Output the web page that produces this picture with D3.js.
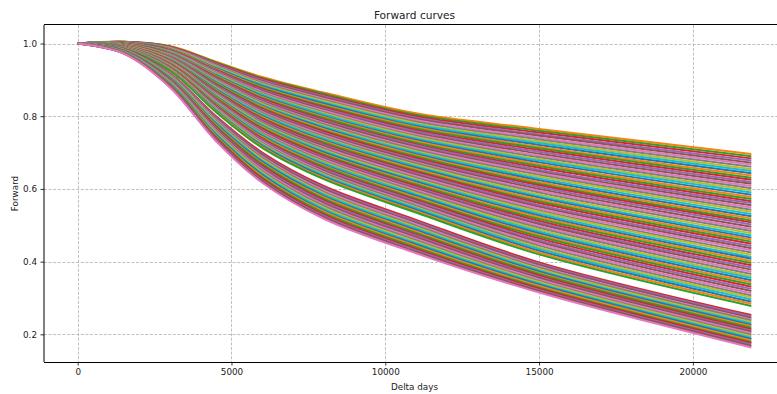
<!DOCTYPE html>
<html><head><meta charset="utf-8">
<script src="https://cdn.jsdelivr.net/npm/d3@7"></script>
<style>html,body{margin:0;padding:0;background:#fff;}svg{display:block;font-family:"DejaVu Sans",sans-serif;}</style>
</head><body><svg id="c" width="777" height="394"></svg>
<script>
// knot positions (delta days) of every forward curve
const deltaDays = [0, 1500, 3000, 4500, 6000, 8000, 11000, 15000, 21900];
// every curve starts at 1.0
const forwardAtZero = 1.0;
// forward value of each curve (ordered top to bottom) at each knot
const fwd1500 = [1.0050,1.0047,1.0045,1.0042,1.0039,1.0037,1.0034,1.0031,1.0029,1.0026,1.0023,1.0021,1.0018,1.0015,1.0012,1.0010,1.0007,1.0004,1.0002,0.9999,0.9996,0.9994,0.9991,0.9988,0.9986,0.9983,0.9980,0.9978,0.9975,0.9972,0.9970,0.9967,0.9964,0.9962,0.9959,0.9956,0.9954,0.9951,0.9948,0.9945,0.9943,0.9940,0.9937,0.9935,0.9932,0.9929,0.9927,0.9924,0.9921,0.9919,0.9916,0.9913,0.9911,0.9908,0.9905,0.9903,0.9900,0.9897,0.9894,0.9892,0.9889,0.9886,0.9884,0.9881,0.9878,0.9876,0.9873,0.9870,0.9868,0.9865,0.9862,0.9860,
  0.9850,0.9844,0.9839,0.9833,0.9827,0.9822,0.9816,0.9810,0.9805,0.9799,0.9794,0.9788,0.9782,0.9777,0.9771,0.9765,0.9760,0.9754,0.9748,0.9743,0.9737,0.9731,0.9726,0.9720];
const fwd3000 = [0.9930,0.9920,0.9911,0.9901,0.9892,0.9882,0.9873,0.9863,0.9853,0.9844,0.9834,0.9825,0.9815,0.9805,0.9796,0.9786,0.9777,0.9767,0.9758,0.9748,0.9738,0.9729,0.9719,0.9710,0.9700,0.9691,0.9681,0.9671,0.9662,0.9652,0.9643,0.9633,0.9623,0.9614,0.9604,0.9595,0.9585,0.9576,0.9566,0.9556,0.9547,0.9537,0.9528,0.9518,0.9508,0.9499,0.9489,0.9480,0.9470,0.9461,0.9451,0.9441,0.9432,0.9422,0.9413,0.9403,0.9394,0.9384,0.9374,0.9365,0.9355,0.9346,0.9336,0.9326,0.9317,0.9307,0.9298,0.9288,0.9279,0.9269,0.9259,0.9250,
  0.9180,0.9163,0.9146,0.9129,0.9112,0.9095,0.9078,0.9061,0.9044,0.9027,0.9010,0.8993,0.8976,0.8959,0.8942,0.8925,0.8908,0.8891,0.8874,0.8857,0.8840,0.8823,0.8806,0.8790];
const fwd4500 = [0.950,0.948,0.946,0.944,0.942,0.940,0.938,0.936,0.934,0.932,0.930,0.928,0.927,0.925,0.923,0.921,0.919,0.917,0.915,0.913,0.911,0.909,0.907,0.905,0.903,0.901,0.899,0.897,0.895,0.893,0.891,0.889,0.887,0.885,0.883,0.881,0.880,0.878,0.876,0.874,0.872,0.870,0.868,0.866,0.864,0.862,0.860,0.858,0.856,0.854,0.852,0.850,0.848,0.846,0.844,0.842,0.840,0.838,0.836,0.834,0.833,0.831,0.829,0.827,0.825,0.823,0.821,0.819,0.817,0.815,0.813,0.811,
  0.800,0.797,0.794,0.791,0.788,0.785,0.782,0.779,0.776,0.773,0.770,0.767,0.764,0.761,0.758,0.755,0.752,0.749,0.746,0.743,0.740,0.737,0.734,0.731];
const fwd6000 = [0.908,0.905,0.903,0.900,0.897,0.894,0.892,0.889,0.886,0.883,0.880,0.878,0.875,0.872,0.870,0.867,0.864,0.861,0.859,0.856,0.853,0.850,0.848,0.845,0.842,0.839,0.837,0.834,0.831,0.828,0.826,0.823,0.820,0.817,0.815,0.812,0.809,0.806,0.804,0.801,0.798,0.795,0.793,0.790,0.787,0.784,0.782,0.779,0.776,0.773,0.771,0.768,0.765,0.762,0.760,0.757,0.754,0.751,0.749,0.746,0.743,0.740,0.738,0.735,0.732,0.730,0.727,0.724,0.721,0.719,0.716,0.713,
  0.700,0.696,0.693,0.689,0.686,0.682,0.678,0.675,0.671,0.668,0.664,0.660,0.657,0.653,0.649,0.646,0.642,0.639,0.635,0.631,0.628,0.624,0.621,0.617];
const fwd8000 = [0.865,0.862,0.858,0.855,0.852,0.848,0.845,0.842,0.838,0.835,0.831,0.828,0.825,0.821,0.818,0.815,0.811,0.808,0.805,0.801,0.798,0.795,0.791,0.788,0.785,0.781,0.778,0.774,0.771,0.768,0.764,0.761,0.758,0.754,0.751,0.748,0.744,0.741,0.738,0.734,0.731,0.728,0.724,0.721,0.718,0.714,0.711,0.707,0.704,0.701,0.697,0.694,0.691,0.687,0.684,0.681,0.677,0.674,0.671,0.667,0.664,0.661,0.657,0.654,0.650,0.647,0.644,0.640,0.637,0.634,0.630,0.627,
  0.608,0.604,0.600,0.596,0.592,0.588,0.585,0.581,0.577,0.573,0.569,0.565,0.561,0.557,0.553,0.549,0.545,0.541,0.538,0.534,0.530,0.526,0.522,0.518];
const fwd11000 = [0.808,0.804,0.800,0.796,0.793,0.789,0.785,0.781,0.777,0.773,0.770,0.766,0.762,0.758,0.754,0.750,0.746,0.743,0.739,0.735,0.731,0.727,0.723,0.720,0.716,0.712,0.708,0.704,0.700,0.696,0.693,0.689,0.685,0.681,0.677,0.673,0.670,0.666,0.662,0.658,0.654,0.650,0.647,0.643,0.639,0.635,0.631,0.627,0.623,0.620,0.616,0.612,0.608,0.604,0.600,0.597,0.593,0.589,0.585,0.581,0.577,0.573,0.570,0.566,0.562,0.558,0.554,0.550,0.547,0.543,0.539,0.535,
  0.515,0.511,0.507,0.503,0.499,0.495,0.491,0.487,0.483,0.479,0.475,0.471,0.467,0.463,0.459,0.455,0.451,0.447,0.443,0.439,0.435,0.431,0.427,0.423];
const fwd15000 = [0.765,0.760,0.755,0.750,0.746,0.741,0.736,0.731,0.726,0.721,0.716,0.712,0.707,0.702,0.697,0.692,0.687,0.682,0.678,0.673,0.668,0.663,0.658,0.653,0.648,0.644,0.639,0.634,0.629,0.624,0.619,0.614,0.610,0.605,0.600,0.595,0.590,0.585,0.580,0.576,0.571,0.566,0.561,0.556,0.551,0.546,0.541,0.537,0.532,0.527,0.522,0.517,0.512,0.507,0.503,0.498,0.493,0.488,0.483,0.478,0.473,0.469,0.464,0.459,0.454,0.449,0.444,0.439,0.435,0.430,0.425,0.420,
  0.398,0.394,0.391,0.387,0.384,0.380,0.376,0.373,0.369,0.366,0.362,0.358,0.355,0.351,0.347,0.344,0.340,0.337,0.333,0.329,0.326,0.322,0.319,0.315];
const fwd21900 = [0.696,0.690,0.684,0.678,0.672,0.667,0.661,0.655,0.649,0.643,0.637,0.631,0.625,0.619,0.614,0.608,0.602,0.596,0.590,0.584,0.578,0.572,0.566,0.561,0.555,0.549,0.543,0.537,0.531,0.525,0.519,0.513,0.508,0.502,0.496,0.490,0.484,0.478,0.472,0.466,0.461,0.455,0.449,0.443,0.437,0.431,0.425,0.419,0.413,0.408,0.402,0.396,0.390,0.384,0.378,0.372,0.366,0.360,0.355,0.349,0.343,0.337,0.331,0.325,0.319,0.313,0.307,0.302,0.296,0.290,0.284,0.278,
  0.253,0.249,0.245,0.241,0.238,0.234,0.230,0.226,0.222,0.218,0.214,0.210,0.207,0.203,0.199,0.195,0.191,0.187,0.183,0.179,0.176,0.172,0.168,0.164];
const xTicks = [0, 5000, 10000, 15000, 20000];
const yTicks = [0.2, 0.4, 0.6, 0.8, 1.0];
const titleText = "Forward curves";
const xLabel = "Delta days";
const yLabel = "Forward";

const knotArrays = [fwd1500, fwd3000, fwd4500, fwd6000, fwd8000, fwd11000, fwd15000, fwd21900];
const nCurves = fwd21900.length;
const series = d3.range(nCurves).map(i =>
  deltaDays.map((d, k) => [d, k === 0 ? forwardAtZero : knotArrays[k - 1][i]]));

const L = 44, T = 25, R = 785, B = 362;
const svg = d3.select("#c");
const x = d3.scaleLinear().domain([-1095, 22995]).range([L, R]);
const y = d3.scaleLinear().domain([0.1239, 1.0509]).range([B, T]);

// grid
const grid = svg.append("g").attr("stroke", "#b0b0b0").attr("stroke-width", 0.8).attr("stroke-dasharray", "3,1.6");
grid.selectAll("line.vx").data(xTicks).join("line")
  .attr("x1", d => Math.round(x(d)) + 0.5).attr("x2", d => Math.round(x(d)) + 0.5).attr("y1", T).attr("y2", B);
grid.selectAll("line.hy").data(yTicks).join("line")
  .attr("y1", d => Math.round(y(d)) + 0.5).attr("y2", d => Math.round(y(d)) + 0.5).attr("x1", L).attr("x2", R);

// curves
const tab10 = d3.schemeCategory10;
const line = d3.line().x(d => x(d[0])).y(d => y(d[1])).curve(d3.curveCatmullRom.alpha(0.5));
svg.append("g").attr("fill", "none").attr("stroke-width", 2)
  .selectAll("path").data(series).join("path")
  .attr("d", line).attr("stroke", (d, i) => tab10[(i + 1) % 10]);

// axes
const xAxis = d3.axisBottom(x).tickValues(xTicks).tickSize(3.5).tickPadding(3.5).tickFormat(d3.format("d"));
const gx = svg.append("g").attr("transform", `translate(0,${B})`).call(xAxis);
const yAxis = d3.axisLeft(y).tickValues(yTicks).tickSize(3.5).tickPadding(3.5).tickFormat(d3.format(".1f"));
const gy = svg.append("g").attr("transform", `translate(${L},0)`).call(yAxis);
[gx, gy].forEach(g => {
  g.select(".domain").remove();
  g.selectAll(".tick line").attr("stroke", "#000").attr("stroke-width", 0.8);
  g.selectAll(".tick text").attr("fill", "#222").style("font-size", "8.8px").style("font-family", "DejaVu Sans");
});
// spines
svg.append("line").attr("x1", L).attr("x2", L).attr("y1", T).attr("y2", B).attr("stroke", "#000").attr("stroke-width", 1);
svg.append("line").attr("x1", L).attr("x2", R).attr("y1", B + 0.5).attr("y2", B + 0.5).attr("stroke", "#000").attr("stroke-width", 1);
svg.append("line").attr("x1", L).attr("x2", R).attr("y1", T - 0.5).attr("y2", T - 0.5).attr("stroke", "#000").attr("stroke-width", 1);

svg.append("text").attr("x", (L + R) / 2).attr("y", 18.5).attr("text-anchor", "middle")
  .style("font-size", "10.6px").attr("fill", "#222").text(titleText);
svg.append("text").attr("x", (L + R) / 2).attr("y", 390).attr("text-anchor", "middle")
  .style("font-size", "8.8px").attr("fill", "#222").text(xLabel);
svg.append("text").attr("transform", `translate(18,${(T + B) / 2}) rotate(-90)`).attr("text-anchor", "middle")
  .style("font-size", "8.8px").attr("fill", "#222").text(yLabel);
</script>
</body></html>
